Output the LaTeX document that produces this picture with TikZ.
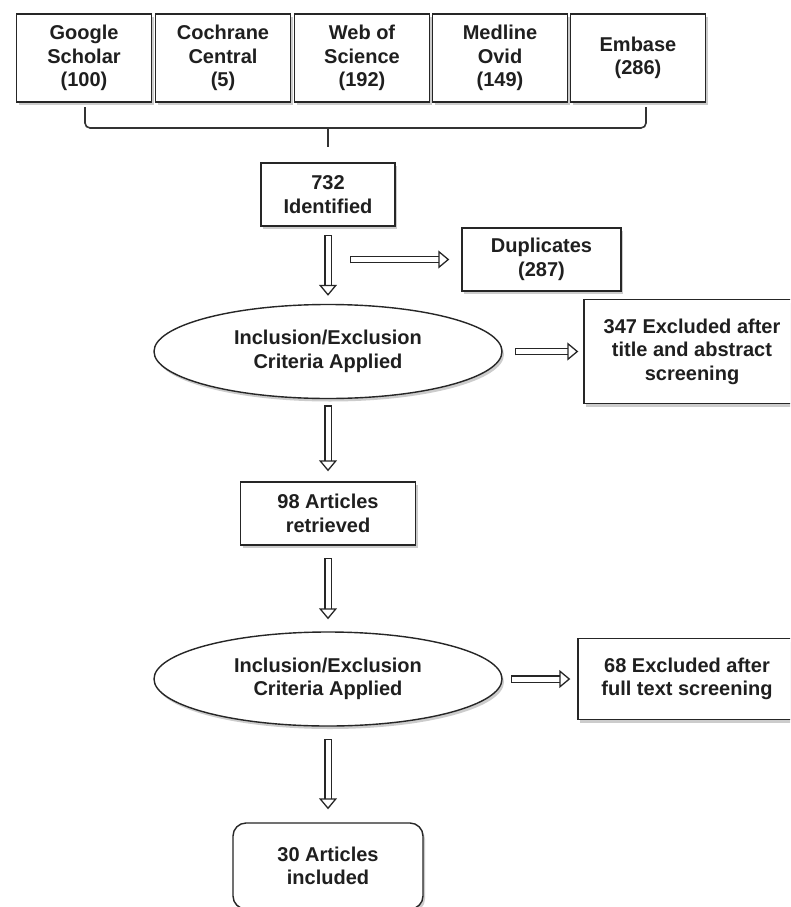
\documentclass[tikz,border=0pt]{standalone}
\usepackage{fontspec}
\setmainfont{Liberation Sans}
\usetikzlibrary{shapes.geometric,arrows.meta,shadows}

\begin{document}
\begin{tikzpicture}[x=1pt,y=-1pt]
        % Define the styles for the nodes
        \tikzset{
            every node/.style={font=\fontsize{20}{23.5}\selectfont\bfseries, align=center, inner sep=0pt, text=black!88},
            box/.style={draw=black!85, line width=1.4pt, fill=white, drop shadow={shadow xshift=2pt, shadow yshift=-3pt, opacity=0.4}},
            src/.style={box, minimum width=135pt, minimum height=88pt},
            crit/.style={box, ellipse, minimum width=348pt, minimum height=94pt},
            flow/.style={draw=black!85, double, double distance=5pt, line width=1.3pt,
                {Bar[width=7.5pt, line width=1.3pt]}-{Triangle[open, length=11pt, width=18pt, line width=1.3pt]},
                shorten <=8pt, shorten >=8pt}
        }

        \useasboundingbox (0,0) rectangle (790,907);
        \fill[white] (0,0) rectangle (790,907);
        \clip (0,0) rectangle (790,907);

        % Sources
        \node[src] (google) at (84,58) {Google\\Scholar\\(100)};
        \node[src] (cochrane) at (223,58) {Cochrane\\Central\\(5)};
        \node[src] (wos) at (362,58) {Web of\\Science\\(192)};
        \node[src] (medline) at (500,58) {Medline\\Ovid\\(149)};
        \node[src] (embase) at (638,58) {Embase\\(286)};

        % Brace
        \coordinate (braceL) at (85,107);
        \coordinate (braceR) at (646,107);
        \coordinate (braceM) at (328,128);
        \coordinate (braceTip) at (328,147);
        \draw[black!80, line width=1.6pt, rounded corners=5pt] (braceL) |- (braceM) -| (braceR);
        \draw[black!80, line width=1.6pt] (braceM) -- (braceTip);

        % Nodes
        \node[box, minimum width=134pt, minimum height=63pt] (ident) at (328,194.5) {732\\Identified};
        \node[box, minimum width=159pt, minimum height=63pt] (dup) at (541.5,259.5) {Duplicates\\(287)};
        \node[crit] (crit1) at (328,351.5) {Inclusion/Exclusion\\Criteria Applied};
        \node[box, minimum width=216pt, minimum height=104pt] (excl1) at (692,351.5) {347 Excluded after\\title and abstract\\screening};
        \node[box, minimum width=175pt, minimum height=63pt] (ret) at (328,513.5) {98 Articles\\retrieved};
        \node[crit] (crit2) at (328,679) {Inclusion/Exclusion\\Criteria Applied};
        \node[box, minimum width=218pt, minimum height=81pt] (excl2) at (687,679) {68 Excluded after\\full text screening};
        \node[box, rounded corners=13pt, minimum width=190pt, minimum height=86pt] (incl) at (328,866) {30 Articles\\included};

        % Edges
        \coordinate (dupStart) at (350,259.5);
        \draw[flow] (ident) -- (crit1);
        \draw[flow, shorten <=0pt, shorten >=12pt] (dupStart) -- (dup);
        \draw[flow, shorten <=12pt, shorten >=5pt] (crit1) -- (excl1);
        \draw[flow, shorten <=6pt, shorten >=10pt] (crit1) -- (ret);
        \draw[flow, shorten <=12pt, shorten >=12pt] (ret) -- (crit2);
        \draw[flow, shorten <=8pt, shorten >=7pt] (crit2) -- (excl2);
        \draw[flow, shorten <=12pt, shorten >=13pt] (crit2) -- (incl);
    \end{tikzpicture}
\end{document}
